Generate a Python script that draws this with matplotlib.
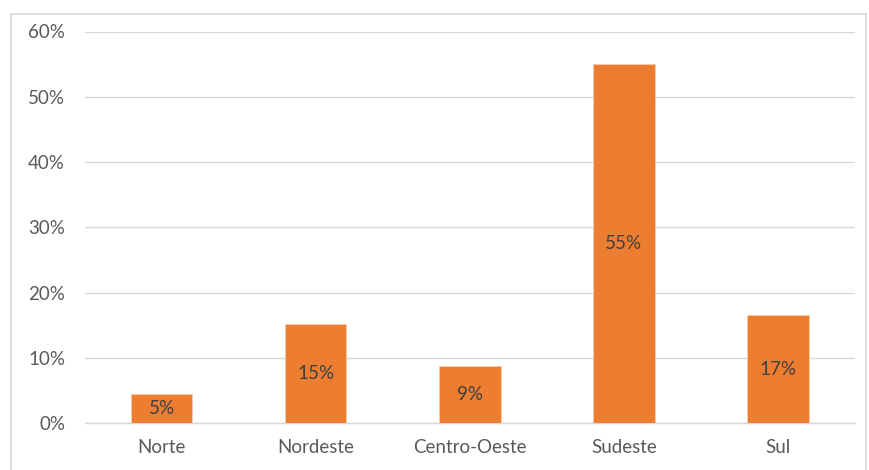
import matplotlib.pyplot as plt
from matplotlib.patches import Rectangle
from matplotlib.ticker import FuncFormatter

# Data
regioes = ["Norte", "Nordeste", "Centro-Oeste", "Sudeste", "Sul"]
valores = [4.5, 15.2, 8.8, 55.0, 16.6]
rotulos = ["5%", "15%", "9%", "55%", "17%"]

plt.rcParams['font.family'] = ['Lato', 'DejaVu Sans']

W, H = 869, 470
fig = plt.figure(figsize=(W / 100, H / 100), dpi=100)
ax = fig.add_axes([84.5 / W, 1 - 423.3 / H, (855 - 84.5) / W, (423.3 - 31.5) / H])

# chart frame (light border like the Excel chart area)
fig.patches.append(Rectangle((11 / W, -0.05), (866 - 11) / W, 1.05 - 14 / H,
                             transform=fig.transFigure, fill=False,
                             edgecolor='#D9D9D9', linewidth=1.2))

x = range(len(regioes))
bars = ax.bar(x, valores, width=0.4, color='#ED7D31', edgecolor='#F8CBAD',
              linewidth=0.6, zorder=3)

for b, lab in zip(bars, rotulos):
    ax.text(b.get_x() + b.get_width() / 2, b.get_height() / 2, lab,
            ha='center', va='center', fontsize=13.5, color='#404040', zorder=4)

ax.set_xlim(-0.5, len(regioes) - 0.5)
ax.set_ylim(0, 60)
ax.set_yticks(range(0, 61, 10))
ax.yaxis.set_major_formatter(FuncFormatter(lambda v, p: f"{int(v)}%"))
ax.set_xticks(list(x))
ax.set_xticklabels(regioes)

ax.grid(axis='y', color='#D9D9D9', linewidth=1, zorder=0)
for s in ['top', 'right', 'left']:
    ax.spines[s].set_visible(False)
ax.spines['bottom'].set_color('#D9D9D9')
ax.spines['bottom'].set_linewidth(1)

ax.tick_params(axis='both', length=0, labelsize=13.5, colors='#595959')
ax.tick_params(axis='y', pad=14)
ax.tick_params(axis='x', pad=11)

fig.savefig("out.png", dpi=100)
